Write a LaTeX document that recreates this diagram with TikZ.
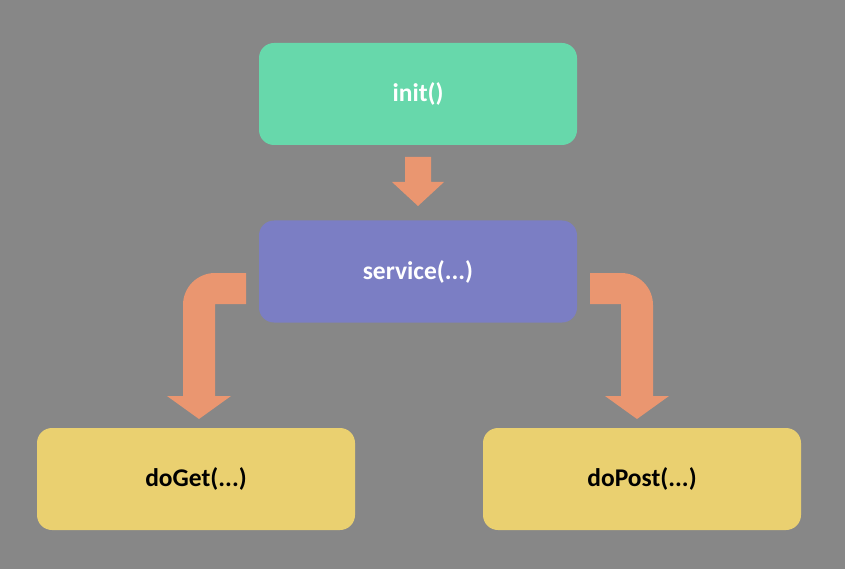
\documentclass[tikz,border=0pt]{standalone}
\usepackage{fontspec}
\setmainfont{Carlito}
\definecolor{bg}{HTML}{878787}
\definecolor{boxgreen}{HTML}{67D8AB}
\definecolor{boxpurple}{HTML}{7B7EC4}
\definecolor{boxyellow}{HTML}{EAD070}
\definecolor{arroworange}{HTML}{EA9670}
\begin{document}
\begin{tikzpicture}[x=1pt,y=-1pt,
  box/.style={rounded corners=15pt, minimum width=318pt, minimum height=102pt, inner sep=0pt, font=\fontsize{25.5}{30}\selectfont\bfseries},
  blockarrow/.style={fill=arroworange, draw=none}]
\fill[bg] (0,0) rectangle (845,569);
\useasboundingbox (0,0) rectangle (845,569);
\node[box, fill=boxgreen, text=white] (init) at (418,94) {init()};
\node[box, fill=boxpurple, text=white] (service) at (418,271.5) {service(...)};
\node[box, fill=boxyellow, text=black] (doget) at (196,479) {doGet(...)};
\node[box, fill=boxyellow, text=black] (dopost) at (642,479) {doPost(...)};
% straight block arrow init -> service
\fill[blockarrow] (405,157) -- (431,157) -- (431,182) -- (444,182) -- (418,206) -- (392,182) -- (405,182) -- cycle;
% bent block arrow service -> doGet
\fill[blockarrow] (246,273) -- (246,304) -- (215,304) -- (215,396) -- (231,396) -- (199,419) -- (167,396) -- (183,396) -- (183,305)
  .. controls (183,287.3) and (197.3,273) .. (215,273) -- cycle;
% bent block arrow service -> doPost
\fill[blockarrow] (590,273) -- (590,304) -- (621,304) -- (621,396) -- (605,396) -- (637,419) -- (669,396) -- (653,396) -- (653,305)
  .. controls (653,287.3) and (638.7,273) .. (621,273) -- cycle;
\end{tikzpicture}
\end{document}
